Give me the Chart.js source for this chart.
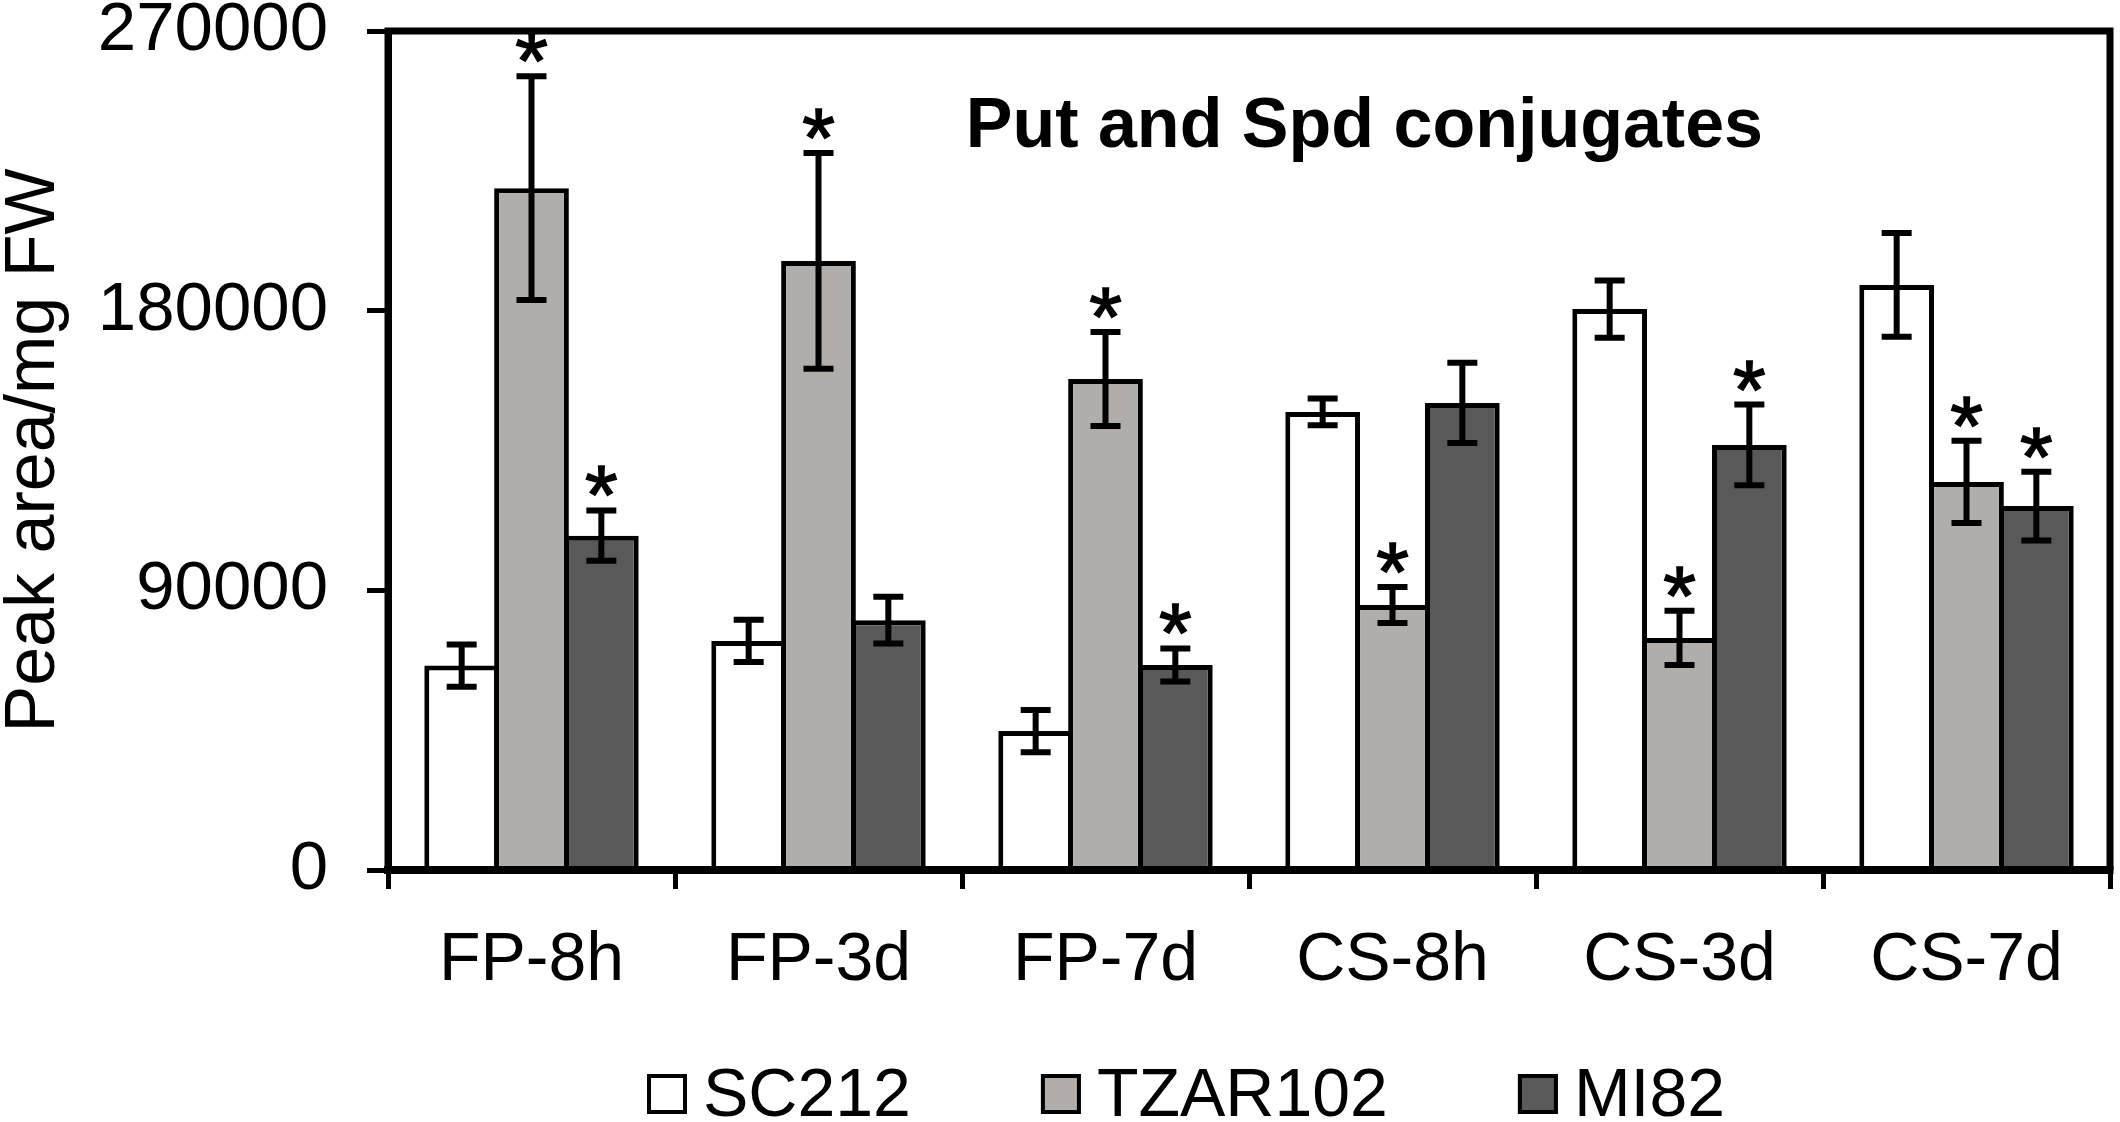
<!DOCTYPE html>
<html><head><meta charset="utf-8">
<script src="https://cdn.jsdelivr.net/npm/chart.js@4.4.1/dist/chart.umd.min.js"></script>
<style>html,body{margin:0;padding:0;background:#fff;} canvas{display:block;}</style>
</head><body>
<canvas id="c" width="2120" height="1122"></canvas>
<script>
// ---- data ----
const categories = ['FP-8h', 'FP-3d', 'FP-7d', 'CS-8h', 'CS-3d', 'CS-7d'];
const seriesNames = ['SC212', 'TZAR102', 'MI82'];
const sc212 = [65800, 73700, 44700, 147400, 180500, 188300];
const sc212Err = [6800, 6800, 6800, 4300, 9200, 16700];
const tzar102 = [219400, 196000, 158000, 85300, 74700, 124900];
const tzar102Err = [36000, 34700, 15100, 5800, 8700, 13200];
const mi82 = [107600, 80400, 66000, 150300, 136800, 117100];
const mi82Err = [8100, 7500, 5300, 12900, 13000, 11100];
const sc212Star = [false, false, false, false, false, false];
const tzar102Star = [true, true, true, true, true, true];
const mi82Star = [true, false, true, false, true, true];
const yTicks = [0, 90000, 180000, 270000];
const titleText = 'Put and Spd conjugates';
const yAxisTitle = 'Peak area/mg FW';

const FONT = "'Liberation Sans', Arial, sans-serif";
const colors = ['#FFFFFF', '#B0ADAB', '#595959'];
const errs = [sc212Err, tzar102Err, mi82Err];
const stars = [sc212Star, tzar102Star, mi82Star];

const decor = {
  id: 'decor',
  afterDatasetsDraw(chart) {
    const ctx = chart.ctx, y = chart.scales.y, ca = chart.chartArea;
    ctx.save();
    // error bars + stars
    chart.data.datasets.forEach((ds, i) => {
      const meta = chart.getDatasetMeta(i);
      meta.data.forEach((bar, j) => {
        const v = ds.data[j], e = errs[i][j];
        const yt = y.getPixelForValue(v + e), yb = y.getPixelForValue(v - e);
        const x = bar.x;
        ctx.strokeStyle = '#000';
        ctx.lineWidth = 6;
        ctx.lineCap = 'butt';
        ctx.beginPath();
        ctx.moveTo(x, yt - 3); ctx.lineTo(x, yb + 3);
        ctx.moveTo(x - 15, yt); ctx.lineTo(x + 15, yt);
        ctx.moveTo(x - 15, yb); ctx.lineTo(x + 15, yb);
        ctx.stroke();
        if (stars[i][j]) {
          ctx.fillStyle = '#000';
          ctx.strokeStyle = '#000';
          ctx.lineWidth = 1.5;
          ctx.font = '84px ' + FONT;
          ctx.textAlign = 'center';
          ctx.textBaseline = 'alphabetic';
          ctx.fillText('*', x, yt + 14);
          ctx.strokeText('*', x, yt + 14);
        }
      });
    });
    // frame
    ctx.strokeStyle = '#000';
    ctx.lineWidth = 7;
    ctx.beginPath();
    ctx.moveTo(ca.left - 3.5, ca.top); ctx.lineTo(ca.right + 3.5, ca.top);
    ctx.moveTo(ca.right, ca.top); ctx.lineTo(ca.right, ca.bottom);
    ctx.moveTo(ca.left, ca.top); ctx.lineTo(ca.left, ca.bottom);
    ctx.stroke();
    ctx.lineWidth = 8;
    ctx.beginPath();
    ctx.moveTo(ca.left - 3.5, ca.bottom); ctx.lineTo(ca.right + 3.5, ca.bottom);
    ctx.stroke();
    // title
    ctx.fillStyle = '#000';
    ctx.font = 'bold 70px ' + FONT;
    ctx.textAlign = 'center';
    ctx.textBaseline = 'alphabetic';
    ctx.fillText(titleText, ca.left + 0.567 * (ca.right - ca.left), ca.top + 116);
    ctx.restore();
  },
  afterDraw(chart) {
    const ctx = chart.ctx;
    ctx.save();
    ctx.font = '68px ' + FONT;
    ctx.textAlign = 'left';
    ctx.textBaseline = 'alphabetic';
    let x = 647;
    const boxTop = 1074, box = 40, baseline = 1116;
    chart.data.datasets.forEach((ds, i) => {
      ctx.fillStyle = ds.backgroundColor;
      ctx.fillRect(x, boxTop, box, box);
      ctx.strokeStyle = '#000';
      ctx.lineWidth = 4;
      ctx.strokeRect(x + 2, boxTop + 2, box - 4, box - 4);
      ctx.fillStyle = '#000';
      ctx.fillText(ds.label, x + box + 16, baseline);
      x += box + 16 + ctx.measureText(ds.label).width + 130;
    });
    ctx.restore();
  }
};

const seriesData = [sc212, tzar102, mi82];
new Chart(document.getElementById('c'), {
  type: 'bar',
  data: {
    labels: categories,
    datasets: seriesNames.map((n, i) => ({
      label: n,
      data: seriesData[i],
      backgroundColor: colors[i],
      borderColor: '#000',
      borderWidth: 5,
      barPercentage: 1.07,
      categoryPercentage: 0.73
    }))
  },
  options: {
    responsive: false,
    devicePixelRatio: 1,
    animation: false,
    layout: { padding: { left: 0, top: 31, right: 10, bottom: 122 } },
    plugins: { legend: { display: false }, tooltip: { enabled: false }, title: { display: false } },
    scales: {
      x: {
        grid: { offset: true, drawOnChartArea: false, drawTicks: true, tickLength: 19, tickWidth: 5, tickColor: '#000' },
        border: { display: true, width: 8, color: '#000' },
        ticks: { color: '#000', font: { family: FONT, size: 68 }, padding: 31, maxRotation: 0, autoSkip: false },
        afterFit(s) { s.height = 130; s.paddingLeft = 0; s.paddingRight = 0; }
      },
      y: {
        min: 0, max: 270000,
        afterBuildTicks(s) { s.ticks = yTicks.map(v => ({ value: v })); },
        grid: { drawOnChartArea: false, drawTicks: true, tickLength: 21, tickWidth: 5, tickColor: '#000' },
        border: { display: true, width: 7, color: '#000' },
        ticks: { color: '#000', font: { family: FONT, size: 69 }, padding: 39, callback: v => String(v) },
        title: { display: true, text: yAxisTitle, color: '#000', font: { family: FONT, size: 70, lineHeight: 1 }, padding: { top: 0, bottom: 0 } },
        afterFit(s) { s.width = 388; s.paddingTop = 0; s.paddingBottom = 0; }
      }
    }
  },
  plugins: [decor]
});
</script>
</body></html>
